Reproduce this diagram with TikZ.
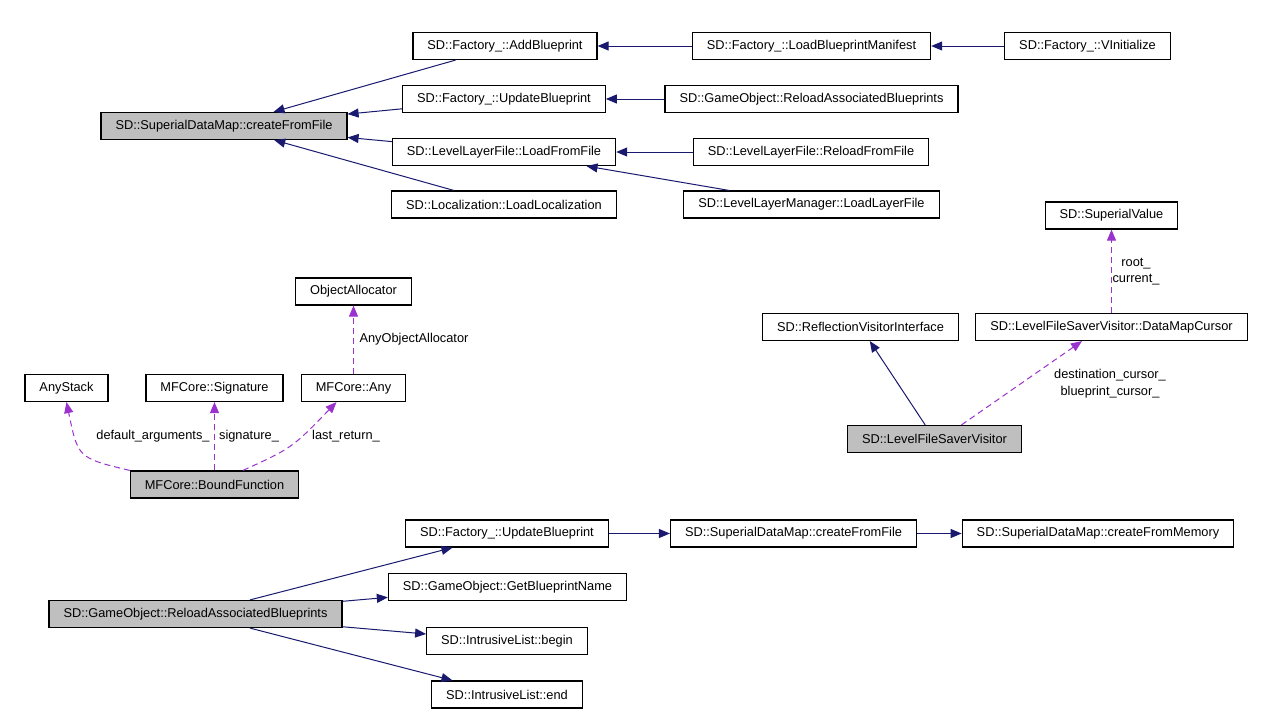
\documentclass[tikz,border=0pt]{standalone}
\usepackage{fontspec}
\setmainfont{Liberation Sans}
\usetikzlibrary{positioning,arrows.meta}
\definecolor{callblue}{HTML}{191970}
\definecolor{deppurple}{HTML}{9A32CD}
\definecolor{selgray}{HTML}{BFBFBF}

\begin{document}
\begin{tikzpicture}[x=1pt,y=-1pt,>={Triangle[length=11pt,width=9pt]},
  box/.style={draw=black,line width=1.2pt,fill=white,minimum height=27pt,inner xsep=14.5pt,font=\fontsize{12.8}{15}\selectfont},
  sel/.style={box,fill=selgray},
  call/.style={->,draw=callblue,line width=1pt},
  dep/.style={->,draw=deppurple,line width=1pt,dash pattern=on 6pt off 4pt},
  lbl/.style={font=\fontsize{12.8}{16.5}\selectfont,inner sep=1pt,align=center}]
\useasboundingbox[fill=white] (0,0) rectangle (1280,720);

% callers of createFromFile
\node[sel] (cff) at (224,126) {SD::SuperialDataMap::createFromFile};
\node[box] (addbp) at (505,46) {SD::Factory\_::AddBlueprint};
\node[box] (updbp) at (504,99) {SD::Factory\_::UpdateBlueprint};
\node[box] (lff) at (504,152) {SD::LevelLayerFile::LoadFromFile};
\node[box] (loc) at (504,204.5) {SD::Localization::LoadLocalization};
\node[box] (manif) at (811.5,46) {SD::Factory\_::LoadBlueprintManifest};
\node[box] (vinit) at (1087.5,46) {SD::Factory\_::VInitialize};
\node[box] (reload) at (811.5,99) {SD::GameObject::ReloadAssociatedBlueprints};
\node[box] (rlff) at (811,152) {SD::LevelLayerFile::ReloadFromFile};
\node[box] (llm) at (811.5,204.5) {SD::LevelLayerManager::LoadLayerFile};
\draw[call] (addbp) -- (cff);
\draw[call] (updbp) -- (cff);
\draw[call] (lff) -- (cff);
\draw[call] (loc) -- (cff);
\draw[call] (manif) -- (addbp);
\draw[call] (vinit) -- (manif);
\draw[call] (reload) -- (updbp);
\draw[call] (rlff) -- (lff);
\draw[call] (llm) -- (lff);

% MFCore::BoundFunction
\node[box] (alloc) at (353.5,291.5) {ObjectAllocator};
\node[box] (stack) at (66.5,388) {AnyStack};
\node[box] (sig) at (214.5,388) {MFCore::Signature};
\node[box] (any) at (353.5,388) {MFCore::Any};
\node[sel] (bf) at (214.5,484.5) {MFCore::BoundFunction};
\draw[dep] (bf.north west) .. controls (78,458) .. (stack.south);
\draw[dep] (bf) -- (sig);
\draw[dep] ([xshift=28.5pt]bf.north) .. controls (292,448) .. ([xshift=-17pt]any.south);
\draw[dep] (any) -- (alloc);
\node[lbl] (defl) at (153,436) {default\_arguments\_};
\node[lbl] (sigl) at (249,436) {signature\_};
\node[lbl] (lastl) at (346,436) {last\_return\_};
\node[lbl] (allocl) at (414,339) {AnyObjectAllocator};

% SD::LevelFileSaverVisitor
\node[box] (sval) at (1111.5,215.5) {SD::SuperialValue};
\node[box] (rvi) at (860.5,327) {SD::ReflectionVisitorInterface};
\node[box] (dmc) at (1111.5,327) {SD::LevelFileSaverVisitor::DataMapCursor};
\node[sel] (lfsv) at (934.5,439) {SD::LevelFileSaverVisitor};
\draw[call] (lfsv) -- (rvi);
\draw[dep] ([xshift=27pt]lfsv.north) -- ([xshift=-29.5pt]dmc.south);
\draw[dep] (dmc) -- (sval);
\node[lbl] (curl) at (1110,383.5) {destination\_cursor\_\\blueprint\_cursor\_};
\node[lbl] (rootl) at (1136,271.5) {root\_\\current\_};

% callees of ReloadAssociatedBlueprints
\node[sel] (grbp) at (195.5,614) {SD::GameObject::ReloadAssociatedBlueprints};
\node[box] (upd2) at (507,533.5) {SD::Factory\_::UpdateBlueprint};
\node[box] (gbn) at (507.5,587) {SD::GameObject::GetBlueprintName};
\node[box] (lbeg) at (507,641) {SD::IntrusiveList::begin};
\node[box] (lend) at (507,694.5) {SD::IntrusiveList::end};
\node[box] (cff2) at (793.5,533.5) {SD::SuperialDataMap::createFromFile};
\node[box] (cfm) at (1098,533.5) {SD::SuperialDataMap::createFromMemory};
\draw[call] (grbp) -- (upd2);
\draw[call] (grbp) -- (gbn);
\draw[call] (grbp) -- (lbeg);
\draw[call] (grbp) -- (lend);
\draw[call] (upd2) -- (cff2);
\draw[call] (cff2) -- (cfm);
\end{tikzpicture}
\end{document}
